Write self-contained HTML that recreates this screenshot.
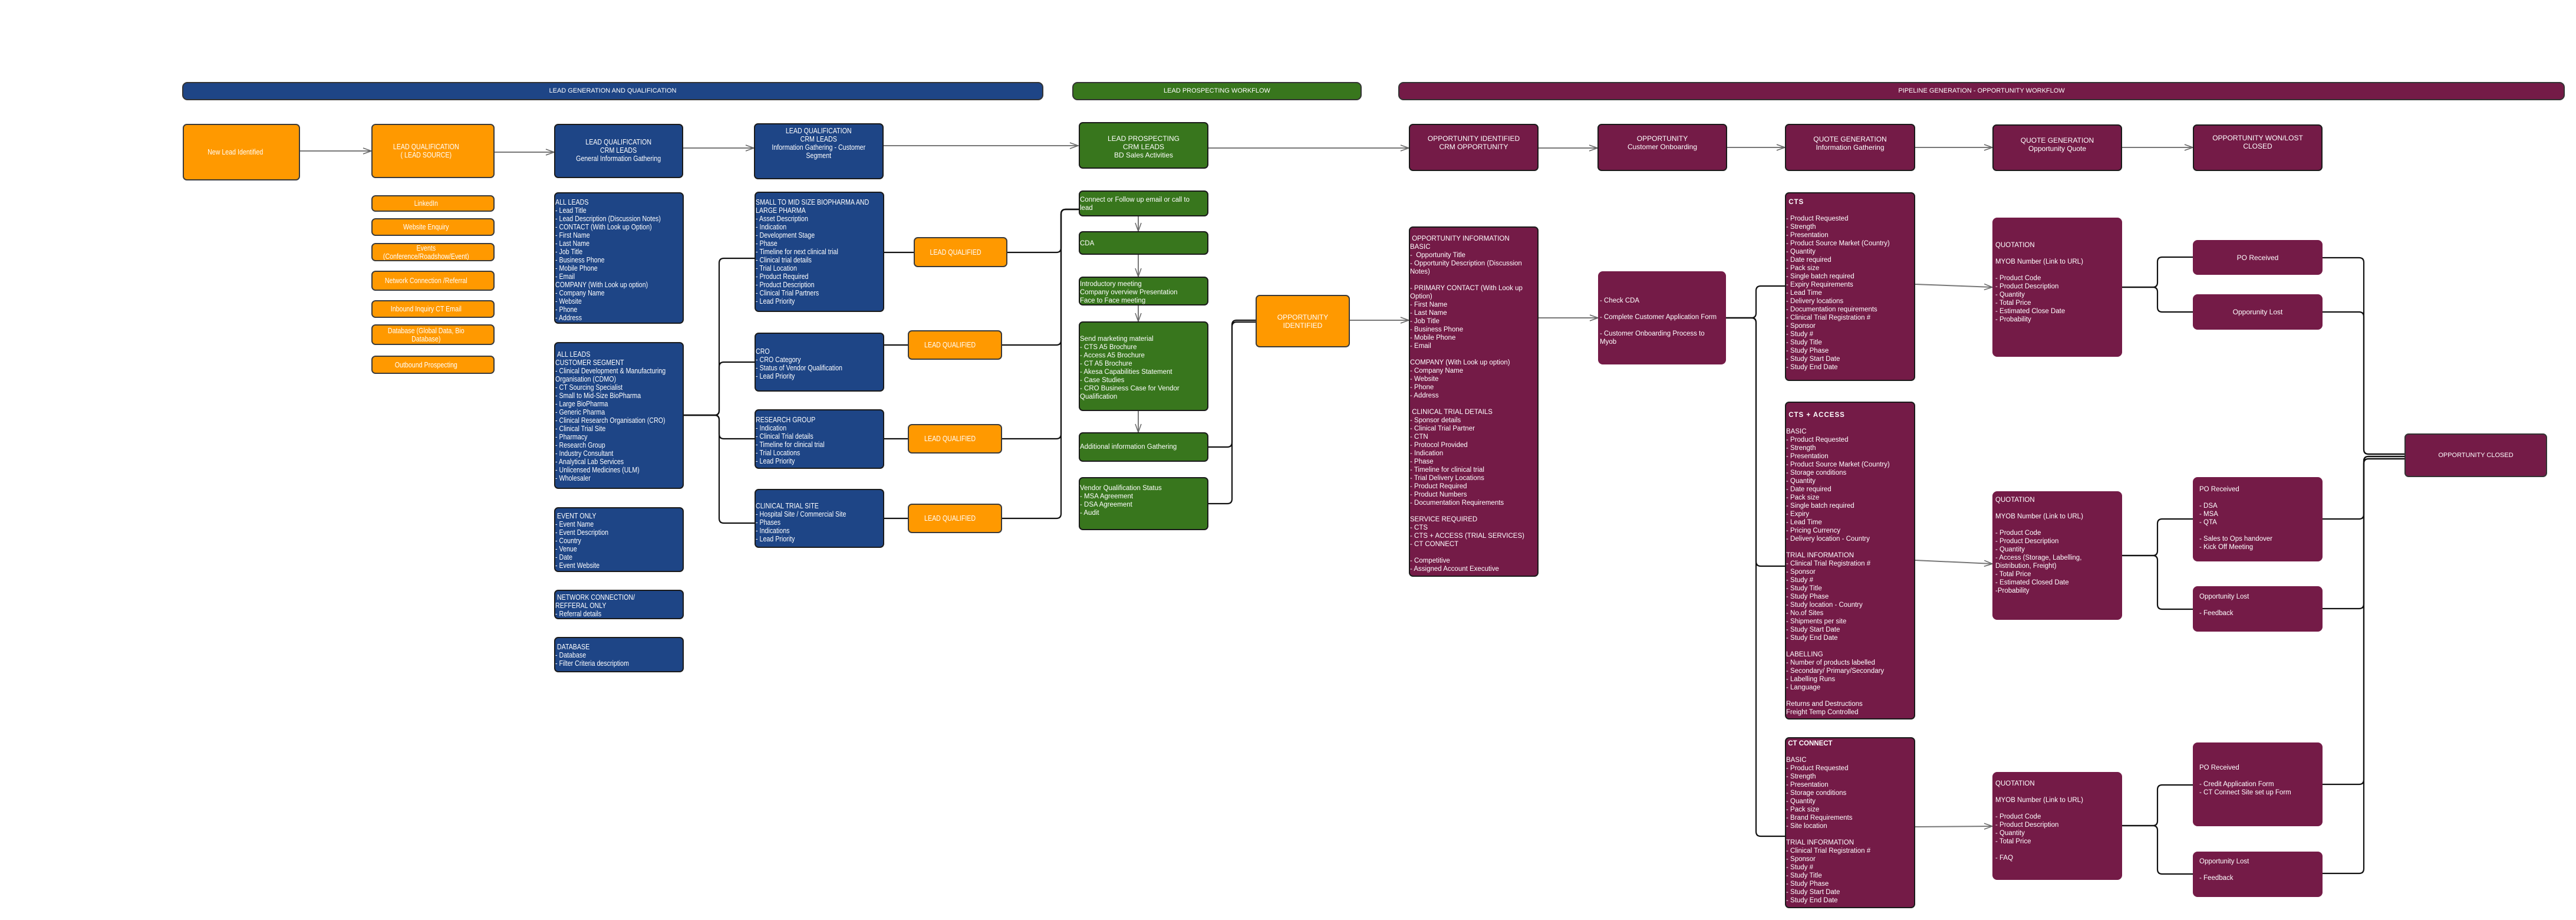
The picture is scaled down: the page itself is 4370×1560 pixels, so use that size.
<!DOCTYPE html>
<html><head><meta charset="utf-8">
<style>
html,body{margin:0;padding:0;background:#fff;}
body{width:4370px;height:1560px;position:relative;overflow:hidden;font-family:"Liberation Sans",Arial,sans-serif;color:#fff;}
.b{position:absolute;box-sizing:border-box;border:2px solid #1a1a1a;border-radius:7px;overflow:hidden;}
.nb{border:none;border-radius:8px;}
.bl{background:#1e4586;}
.gr{background:#38761d;}
.mr{background:#741b47;}
.or{background:#ff9900;border-color:#3a3a3a;}
.hd{position:absolute;box-sizing:border-box;border:2px solid #333;border-radius:9px;font-size:11px;line-height:27px;text-align:center;}
.n{font-size:13px;line-height:14px;transform:scaleX(.82);transform-origin:0 0;width:122%;white-space:nowrap;}
.nc{font-size:13px;line-height:14px;transform:scaleX(.82);transform-origin:50% 0;width:122%;margin-left:-11%;text-align:center;white-space:nowrap;}
.w{font-size:11.5px;line-height:14px;white-space:nowrap;}
.wc{font-size:12px;line-height:14px;text-align:center;white-space:nowrap;}
.flexc{display:flex;align-items:center;justify-content:center;}
svg{position:absolute;left:0;top:0;}
</style></head><body>

<svg width="4370" height="1560" viewBox="0 0 4370 1560">
<defs>
<marker id="ar" markerWidth="16" markerHeight="12" refX="15" refY="6" orient="auto" markerUnits="userSpaceOnUse">
<path d="M1,1 L15,6 L1,11" fill="none" stroke="#666" stroke-width="1.5"/>
</marker>
</defs>
<g fill="none" stroke="#111" stroke-width="2.2">
<path d="M1160,704 H1212 Q1220,704 1220,696 V446 Q1220,438 1228,438 H1280"/>
<path d="M1160,704 H1212 Q1220,704 1220,696 V622 Q1220,614 1228,614 H1280"/>
<path d="M1160,704 H1212 Q1220,704 1220,712 V736 Q1220,744 1228,744 H1280"/>
<path d="M1160,704 H1212 Q1220,704 1220,712 V879 Q1220,887 1228,887 H1280"/>
<path d="M1500,428 H1550"/><path d="M1500,585 H1540"/><path d="M1500,744 H1540"/><path d="M1500,879 H1540"/>
<path d="M1709,428 H1792 Q1800,428 1800,420 V363 Q1800,355 1808,355 H1830"/>
<path d="M1700,585 H1792 Q1800,585 1800,577 V363 Q1800,355 1808,355 H1830"/>
<path d="M1700,744 H1792 Q1800,744 1800,736 V363 Q1800,355 1808,355 H1830"/>
<path d="M1700,879 H1792 Q1800,879 1800,871 V363 Q1800,355 1808,355 H1830"/>
<path d="M2050,758 H2082 Q2090,758 2090,750 V551 Q2090,543 2098,543 H2130"/>
<path d="M2050,854 H2082 Q2090,854 2090,846 V554 Q2090,546 2098,546 H2130"/>
<path d="M2928,539 H2971 Q2979,539 2979,531 V493 Q2979,485 2987,485 H3028"/>
<path d="M2928,539 H2971 Q2979,539 2979,547 V952 Q2979,960 2987,960 H3028"/>
<path d="M2928,539 H2971 Q2979,539 2979,547 V1410 Q2979,1418 2987,1418 H3028"/>
<path d="M3600,487 H3652 Q3660,487 3660,479 V444 Q3660,436 3668,436 H3720"/>
<path d="M3600,487 H3652 Q3660,487 3660,495 V521 Q3660,529 3668,529 H3720"/>
<path d="M3600,942 H3652 Q3660,942 3660,934 V888 Q3660,880 3668,880 H3720"/>
<path d="M3600,942 H3652 Q3660,942 3660,950 V1025 Q3660,1033 3668,1033 H3720"/>
<path d="M3600,1400 H3652 Q3660,1400 3660,1392 V1339 Q3660,1331 3668,1331 H3720"/>
<path d="M3600,1400 H3652 Q3660,1400 3660,1408 V1474 Q3660,1482 3668,1482 H3720"/>
<path d="M3940,437 H4002 Q4010,437 4010,445 V762 Q4010,770 4018,770 H4079"/>
<path d="M3940,529 H4002 Q4010,529 4010,537 V762 Q4010,770 4018,770 H4079"/>
<path d="M3940,880 H4002 Q4010,880 4010,872 V782 Q4010,774 4018,774 H4079"/>
<path d="M3940,1032 H4002 Q4010,1032 4010,1024 V782 Q4010,774 4018,774 H4079"/>
<path d="M3940,1330 H4002 Q4010,1330 4010,1322 V786 Q4010,778 4018,778 H4079"/>
<path d="M3940,1481 H4002 Q4010,1481 4010,1473 V786 Q4010,778 4018,778 H4079"/>
</g>
<g fill="none" stroke="#777" stroke-width="2" marker-end="url(#ar)">
<path d="M509,256 H630"/>
<path d="M839,258 H940"/>
<path d="M1159,251 H1279"/>
<path d="M1499,247 H1829"/>
<path d="M2050,251 H2390"/>
<path d="M2610,251 H2710"/>
<path d="M2930,250 H3028"/>
<path d="M3249,250 H3380"/>
<path d="M3600,250 H3720"/>
<path d="M2290,543 H2390"/>
<path d="M2610,539 H2711"/>
<path d="M3249,482 L3380,487"/>
<path d="M3249,950 L3380,956"/>
<path d="M3249,1402 L3380,1401"/>
<path d="M1931,367 V392"/>
<path d="M1931,432 V469"/>
<path d="M1931,518 V545"/>
<path d="M1931,697 V733"/>
</g>
</svg>

<div class="hd bl" style="left:309px;top:139px;width:1461px;height:31px;">LEAD GENERATION AND QUALIFICATION</div>
<div class="hd gr" style="left:1819px;top:139px;width:491px;height:31px;">LEAD PROSPECTING WORKFLOW</div>
<div class="hd mr" style="left:2372px;top:139px;width:1979px;height:31px;">PIPELINE GENERATION - OPPORTUNITY WORKFLOW</div>

<div class="b or flexc" style="left:310px;top:210px;width:199px;height:96px;"><div class="nc">New Lead Identified</div></div>
<div class="b or flexc" style="left:630px;top:210px;width:209px;height:92px;"><div class="nc">LEAD QUALIFICATION<br>( LEAD SOURCE)</div></div>
<div class="b bl" style="left:940px;top:210px;width:219px;height:92px;padding-top:22px;"><div class="nc">LEAD QUALIFICATION<br>CRM LEADS<br>General Information Gathering</div></div>
<div class="b bl" style="left:1279px;top:209px;width:220px;height:95px;padding-top:4px;"><div class="nc">LEAD QUALIFICATION<br>CRM LEADS<br>Information Gathering - Customer<br>Segment</div></div>

<div class="b or flexc" style="left:630px;top:331px;width:209px;height:28px;"><div class="nc">LinkedIn</div></div>
<div class="b or flexc" style="left:630px;top:370px;width:209px;height:30px;"><div class="nc">Website Enquiry</div></div>
<div class="b or flexc" style="left:630px;top:412px;width:209px;height:31px;"><div class="nc">Events<br>(Conference/Roadshow/Event)</div></div>
<div class="b or flexc" style="left:630px;top:459px;width:209px;height:34px;"><div class="nc">Network Connection /Referral</div></div>
<div class="b or flexc" style="left:630px;top:509px;width:209px;height:30px;"><div class="nc">Inbound Inquiry CT Email</div></div>
<div class="b or flexc" style="left:630px;top:550px;width:209px;height:35px;"><div class="nc">Database (Global Data, Bio<br>Database)</div></div>
<div class="b or flexc" style="left:630px;top:603px;width:209px;height:31px;"><div class="nc">Outbound Prospecting</div></div>

<div class="b bl" style="left:940px;top:326px;width:220px;height:223px;padding-top:8px;"><div class="n">ALL LEADS<br>- Lead Title<br>- Lead Description (Discussion Notes)<br>- CONTACT (With Look up Option)<br>- First Name<br>- Last Name<br>- Job Title<br>- Business Phone<br>- Mobile Phone<br>- Email<br>COMPANY (With Look up option)<br>- Company Name<br>- Website<br>- Phone<br>- Address</div></div>
<div class="b bl" style="left:940px;top:580px;width:220px;height:249px;padding-top:12px;"><div class="n">&nbsp;ALL LEADS<br>CUSTOMER SEGMENT<br>- Clinical Development &amp; Manufacturing<br>Organisation (CDMO)<br>- CT Sourcing Specialist<br>- Small to Mid-Size BioPharma<br>- Large BioPharma<br>- Generic Pharma<br>- Clinical Research Organisation (CRO)<br>- Clinical Trial Site<br>- Pharmacy<br>- Research Group<br>- Industry Consultant<br>- Analytical Lab Services<br>- Unlicensed Medicines (ULM)<br>- Wholesaler</div></div>
<div class="b bl" style="left:940px;top:860px;width:220px;height:110px;padding-top:6px;"><div class="n">&nbsp;EVENT ONLY<br>- Event Name<br>- Event Description<br>- Country<br>- Venue<br>- Date<br>- Event Website</div></div>
<div class="b bl" style="left:940px;top:1000px;width:220px;height:50px;padding-top:4px;"><div class="n">&nbsp;NETWORK CONNECTION/<br>REFFERAL ONLY<br>- Referral details</div></div>
<div class="b bl" style="left:940px;top:1080px;width:220px;height:60px;padding-top:8px;"><div class="n">&nbsp;DATABASE<br>- Database<br>- Filter Criteria descriptiom</div></div>

<div class="b bl" style="left:1280px;top:325px;width:220px;height:204px;padding-top:9px;"><div class="n">SMALL TO MID SIZE BIOPHARMA AND<br>LARGE PHARMA<br>- Asset Description<br>- Indication<br>- Development Stage<br>- Phase<br>- Timeline for next clinical trial<br>- Clinical trial details<br>- Trial Location<br>- Product Required<br>- Product Description<br>- Clinical Trial Partners<br>- Lead Priority</div></div>
<div class="b bl" style="left:1280px;top:564px;width:220px;height:100px;padding-top:23px;"><div class="n">CRO<br>- CRO Category<br>- Status of Vendor Qualification<br>- Lead Priority</div></div>
<div class="b bl" style="left:1280px;top:694px;width:220px;height:101px;padding-top:9px;"><div class="n">RESEARCH GROUP<br>- Indication<br>- Clinical Trial details<br>- Timeline for clinical trial<br>- Trial Locations<br>- Lead Priority</div></div>
<div class="b bl" style="left:1280px;top:829px;width:220px;height:100px;padding-top:20px;"><div class="n">CLINICAL TRIAL SITE<br>- Hospital Site / Commercial Site<br>- Phases<br>- Indications<br>- Lead Priority</div></div>

<div class="b or flexc" style="left:1550px;top:402px;width:159px;height:51px;"><div class="nc">LEAD QUALIFIED</div></div>
<div class="b or flexc" style="left:1540px;top:560px;width:160px;height:50px;"><div class="nc">LEAD QUALIFIED</div></div>
<div class="b or flexc" style="left:1540px;top:719px;width:160px;height:50px;"><div class="nc">LEAD QUALIFIED</div></div>
<div class="b or flexc" style="left:1540px;top:854px;width:160px;height:50px;"><div class="nc">LEAD QUALIFIED</div></div>

<div class="b gr" style="left:1830px;top:207px;width:220px;height:79px;padding-top:19px;"><div class="wc">LEAD PROSPECTING<br>CRM LEADS<br>BD Sales Activities</div></div>
<div class="b gr" style="left:1830px;top:323px;width:220px;height:44px;padding-top:7px;"><div class="w">Connect or Follow up email or call to<br>lead</div></div>
<div class="b gr" style="left:1830px;top:392px;width:220px;height:40px;padding-top:12px;"><div class="w">CDA</div></div>
<div class="b gr" style="left:1830px;top:469px;width:220px;height:49px;padding-top:4px;"><div class="w">Introductory meeting<br>Company overview Presentation<br>Face to Face meeting</div></div>
<div class="b gr" style="left:1830px;top:545px;width:220px;height:152px;padding-top:21px;"><div class="w">Send marketing material<br>- CTS A5 Brochure<br>- Access A5 Brochure<br>- CT A5 Brochure<br>- Akesa Capabilities Statement<br>- Case Studies<br>- CRO Business Case for Vendor<br>Qualification</div></div>
<div class="b gr" style="left:1830px;top:733px;width:220px;height:50px;padding-top:16px;"><div class="w">Additional information Gathering</div></div>
<div class="b gr" style="left:1830px;top:809px;width:220px;height:90px;padding-top:10px;"><div class="w">Vendor Qualification Status<br>- MSA Agreement<br>- DSA Agreement<br>- Audit</div></div>
<div class="b or flexc" style="left:2130px;top:500px;width:160px;height:89px;"><div class="wc">OPPORTUNITY<br>IDENTIFIED</div></div>

<div class="b mr" style="left:2390px;top:210px;width:220px;height:80px;padding-top:16px;"><div class="wc">OPPORTUNITY IDENTIFIED<br>CRM OPPORTUNITY</div></div>
<div class="b mr" style="left:2710px;top:210px;width:220px;height:80px;padding-top:16px;"><div class="wc">OPPORTUNITY<br>Customer Onboarding</div></div>
<div class="b mr" style="left:3028px;top:210px;width:221px;height:80px;padding-top:17px;"><div class="wc">QUOTE GENERATION<br>Information Gathering</div></div>
<div class="b mr" style="left:3380px;top:211px;width:220px;height:79px;padding-top:18px;"><div class="wc">QUOTE GENERATION<br>Opportunity Quote</div></div>
<div class="b mr" style="left:3720px;top:211px;width:220px;height:79px;padding-top:14px;"><div class="wc">OPPORTUNITY WON/LOST<br>CLOSED</div></div>

<div class="b mr" style="left:2390px;top:384px;width:220px;height:594px;padding-top:12px;"><div class="w">&nbsp;OPPORTUNITY INFORMATION<br>BASIC<br>-&nbsp; Opportunity Title<br>- Opportunity Description (Discussion<br>Notes)<br><br>- PRIMARY CONTACT (With Look up<br>Option)<br>- First Name<br>- Last Name<br>- Job Title<br>- Business Phone<br>- Mobile Phone<br>- Email<br><br>COMPANY (With Look up option)<br>- Company Name<br>- Website<br>- Phone<br>- Address<br><br>&nbsp;CLINICAL TRIAL DETAILS<br>- Sponsor details<br>- Clinical Trial Partner<br>- CTN<br>- Protocol Provided<br>- Indication<br>- Phase<br>- Timeline for clinical trial<br>- Trial Delivery Locations<br>- Product Required<br>- Product Numbers<br>- Documentation Requirements<br><br>SERVICE REQUIRED<br>- CTS<br>- CTS + ACCESS (TRIAL SERVICES)<br>- CT CONNECT<br><br>- Competitive<br>- Assigned Account Executive</div></div>
<div class="b mr nb" style="left:2711px;top:460px;width:217px;height:158px;padding-top:43px;padding-left:3px;"><div class="w">- Check CDA<br><br>- Complete Customer Application Form<br><br>- Customer Onboarding Process to<br>Myob</div></div>

<div class="b mr" style="left:3028px;top:326px;width:221px;height:320px;padding-top:8px;"><div class="w"><b style="letter-spacing:1px">&nbsp;CTS</b><br><br>- Product Requested<br>- Strength<br>- Presentation<br>- Product Source Market (Country)<br>- Quantity<br>- Date required<br>- Pack size<br>- Single batch required<br>- Expiry Requirements<br>- Lead Time<br>- Delivery locations<br>- Documentation requirements<br>- Clinical Trial Registration #<br>- Sponsor<br>- Study #<br>- Study Title<br>- Study Phase<br>- Study Start Date<br>- Study End Date</div></div>
<div class="b mr" style="left:3028px;top:681px;width:221px;height:539px;padding-top:14px;"><div class="w"><b style="letter-spacing:1px">&nbsp;CTS + ACCESS</b><br><br>BASIC<br>- Product Requested<br>- Strength<br>- Presentation<br>- Product Source Market (Country)<br>- Storage conditions<br>- Quantity<br>- Date required<br>- Pack size<br>- Single batch required<br>- Expiry<br>- Lead Time<br>- Pricing Currency<br>- Delivery location - Country<br><br>TRIAL INFORMATION<br>- Clinical Trial Registration #<br>- Sponsor<br>- Study #<br>- Study Title<br>- Study Phase<br>- Study location - Country<br>- No.of Sites<br>- Shipments per site<br>- Study Start Date<br>- Study End Date<br><br>LABELLING<br>- Number of products labelled<br>- Secondary/ Primary/Secondary<br>- Labelling Runs<br>- Language<br><br>Returns and Destructions<br>Freight Temp Controlled</div></div>
<div class="b mr" style="left:3028px;top:1250px;width:221px;height:290px;padding-top:2px;"><div class="w"><b>&nbsp;CT CONNECT</b><br><br>BASIC<br>- Product Requested<br>- Strength<br>- Presentation<br>- Storage conditions<br>- Quantity<br>- Pack size<br>- Brand Requirements<br>- Site location<br><br>TRIAL INFORMATION<br>- Clinical Trial Registration #<br>- Sponsor<br>- Study #<br>- Study Title<br>- Study Phase<br>- Study Start Date<br>- Study End Date</div></div>

<div class="b mr nb" style="left:3380px;top:369px;width:220px;height:236px;padding-top:40px;padding-left:5px;"><div class="w">QUOTATION<br><br>MYOB Number (Link to URL)<br><br>- Product Code<br>- Product Description<br>- Quantity<br>- Total Price<br>- Estimated Close Date<br>- Probability</div></div>
<div class="b mr nb" style="left:3380px;top:833px;width:220px;height:218px;padding-top:8px;padding-left:5px;"><div class="w">QUOTATION<br><br>MYOB Number (Link to URL)<br><br>- Product Code<br>- Product Description<br>- Quantity<br>- Access (Storage, Labelling,<br>Distribution, Freight)<br>- Total Price<br>- Estimated Closed Date<br>-Probability</div></div>
<div class="b mr nb" style="left:3380px;top:1309px;width:220px;height:183px;padding-top:13px;padding-left:5px;"><div class="w">QUOTATION<br><br>MYOB Number (Link to URL)<br><br>- Product Code<br>- Product Description<br>- Quantity<br>- Total Price<br><br>- FAQ</div></div>

<div class="b mr nb flexc" style="left:3720px;top:407px;width:220px;height:59px;"><div class="wc">PO Received</div></div>
<div class="b mr nb flexc" style="left:3720px;top:499px;width:220px;height:60px;"><div class="wc">Opporunity Lost</div></div>
<div class="b mr nb" style="left:3720px;top:809px;width:220px;height:143px;padding-top:14px;padding-left:11px;"><div class="w">PO Received<br><br>- DSA<br>- MSA<br>- QTA<br><br>- Sales to Ops handover<br>- Kick Off Meeting</div></div>
<div class="b mr nb" style="left:3720px;top:994px;width:220px;height:77px;padding-top:11px;padding-left:11px;"><div class="w">Opportunity Lost<br><br>- Feedback</div></div>
<div class="b mr nb" style="left:3720px;top:1259px;width:220px;height:142px;padding-top:36px;padding-left:11px;"><div class="w">PO Received<br><br>- Credit Application Form<br>- CT Connect Site set up Form</div></div>
<div class="b mr nb" style="left:3720px;top:1444px;width:220px;height:77px;padding-top:10px;padding-left:11px;"><div class="w">Opportunity Lost<br><br>- Feedback</div></div>

<div class="b mr flexc" style="left:4079px;top:735px;width:242px;height:74px;border-color:#333;"><div class="wc" style="font-size:11px;">OPPORTUNITY CLOSED</div></div>

</body></html>
